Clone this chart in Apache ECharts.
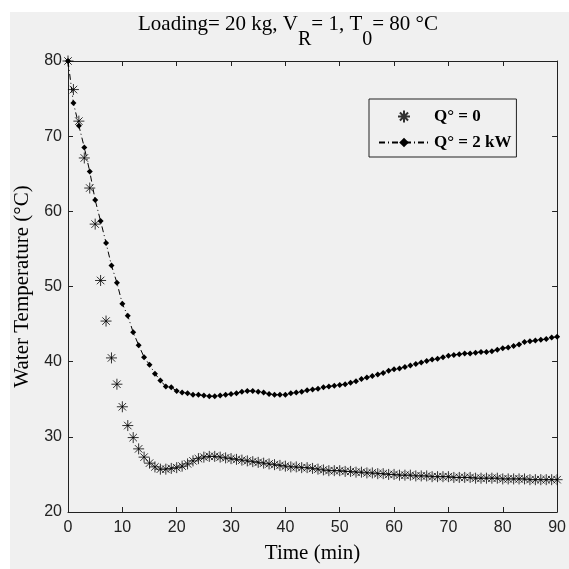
<!DOCTYPE html>
<html>
<head>
<meta charset="utf-8">
<script src="https://cdn.jsdelivr.net/npm/echarts@6/dist/echarts.min.js"></script>
<style>
body{margin:0;background:#fff;}
#container1{width:569px;height:569px;}
</style>
</head>
<body>
<div id="container1"></div>
<script>
// time axis, one sample per minute
var time = [];
for (var i = 0; i <= 90; i++) time.push(i);

var xTicks = [0, 10, 20, 30, 40, 50, 60, 70, 80, 90];
var yTicks = [20, 30, 40, 50, 60, 70, 80];

// Q° = 0
var q0 = [80, 76.2, 72.0, 67.1, 63.1, 58.3, 50.8, 45.4, 40.5, 37.0,
	34.0, 31.5, 29.9, 28.4, 27.3, 26.5, 26.0, 25.7, 25.7, 25.8,
	25.9, 26.1, 26.4, 26.8, 27.1, 27.3, 27.4, 27.4, 27.3, 27.2,
	27.1, 27.0, 26.9, 26.8, 26.7, 26.6, 26.5, 26.4, 26.3, 26.2,
	26.1, 26.0, 26.0, 25.9, 25.9, 25.8, 25.7, 25.6, 25.5, 25.5,
	25.5, 25.4, 25.4, 25.3, 25.3, 25.2, 25.2, 25.1, 25.1, 25.0,
	25.0, 24.9, 24.9, 24.9, 24.8, 24.8, 24.8, 24.7, 24.7, 24.7,
	24.7, 24.6, 24.6, 24.6, 24.6, 24.5, 24.5, 24.5, 24.5, 24.5,
	24.4, 24.4, 24.4, 24.4, 24.4, 24.3, 24.3, 24.3, 24.3, 24.3, 24.3];

// Q° = 2 kW
var q2 = [80, 74.4, 71.4, 68.5, 65.3, 61.5, 58.7, 55.8, 52.8, 50.5,
	47.7, 46.1, 43.9, 42.2, 40.6, 39.6, 38.4, 37.5, 36.7, 36.6,
	36.1, 35.9, 35.8, 35.6, 35.6, 35.5, 35.4, 35.4, 35.5, 35.6,
	35.7, 35.8, 36.0, 36.1, 36.1, 36.0, 35.9, 35.7, 35.6, 35.6,
	35.6, 35.8, 35.9, 36.0, 36.2, 36.3, 36.4, 36.6, 36.7, 36.8,
	36.9, 37.0, 37.2, 37.4, 37.7, 37.9, 38.1, 38.3, 38.5, 38.8,
	39.0, 39.1, 39.3, 39.5, 39.7, 39.9, 40.1, 40.3, 40.4, 40.6,
	40.8, 40.9, 41.0, 41.1, 41.1, 41.2, 41.3, 41.3, 41.4, 41.6,
	41.8, 41.9, 42.1, 42.3, 42.6, 42.7, 42.8, 42.9, 43.0, 43.2, 43.3];

function pairs(ys) {
	var out = [];
	for (var i = 0; i < time.length; i++) out.push([time[i], ys[i]]);
	return out;
}

var star = 'path://M5,0L5,10M0,5L10,5M1.6,1.6L8.4,8.4M8.4,1.6L1.6,8.4';
var serif = 'Liberation Serif';
var sans = 'Liberation Sans';
var axisColor = '#222';

var myChart = echarts.init(document.getElementById('container1'));

function axisBase(pos, showLabel, data) {
	return {
		type: 'value',
		position: pos,
		min: data[0],
		max: data[data.length - 1],
		interval: data[1] - data[0],
		splitLine: {show: false},
		axisLine: {show: true, onZero: false, lineStyle: {color: axisColor, width: 1}},
		axisTick: {show: true, inside: true, length: 5, lineStyle: {color: axisColor}},
		axisLabel: {show: showLabel, color: '#222', fontFamily: sans, fontSize: 16, margin: 8}
	};
}

var xMain = axisBase('bottom', true, xTicks);
xMain.name = 'Time (min)';
xMain.nameLocation = 'middle';
xMain.nameGap = 31;
xMain.nameTextStyle = {fontFamily: serif, fontSize: 21, color: '#000'};

var yMain = axisBase('left', true, yTicks);
yMain.axisLabel.margin = 6;
yMain.name = 'Water Temperature (°C)';
yMain.nameLocation = 'middle';
yMain.nameGap = 32;
yMain.nameTextStyle = {fontFamily: serif, fontSize: 21, color: '#000'};

var option = {
	animation: false,
	backgroundColor: '#fff',
	graphic: [{
		type: 'rect',
		z: -100,
		silent: true,
		shape: {x: 10, y: 12, width: 559, height: 557},
		style: {fill: '#f0f0f0'}
	}],
	title: {
		left: 133,
		top: 9,
		text: '{m|Loading= 20 kg, V}{s|R}{m|= 1, T}{s|0}{m|= 80 °C}',
		textStyle: {
			fontWeight: 'normal',
			rich: {
				m: {fontFamily: serif, fontWeight: 'normal', fontSize: 21, lineHeight: 22, color: '#000', verticalAlign: 'top'},
				s: {fontFamily: serif, fontWeight: 'normal', fontSize: 20, lineHeight: 22, color: '#000', verticalAlign: 'top', padding: [16, 0, 0, 0]}
			}
		}
	},
	grid: {left: 68, right: 9, top: 61, bottom: 53},
	legend: {
		left: 369,
		top: 99,
		orient: 'vertical',
		padding: [9, 5, 6, 9],
		itemWidth: 50,
		itemHeight: 12,
		itemGap: 9,
		borderColor: '#222',
		borderWidth: 1,
		backgroundColor: '#f0f0f0',
		textStyle: {fontFamily: serif, fontWeight: 'bold', fontSize: 17, color: '#000', width: 88},
		data: ['Q° = 0', 'Q° = 2 kW']
	},
	xAxis: [xMain, axisBase('top', false, xTicks)],
	yAxis: [yMain, axisBase('right', false, yTicks)],
	series: [
		//线 Q=2kW
		{
			name: 'Q° = 2 kW',
			type: 'line',
			data: pairs(q2),
			symbol: 'diamond',
			symbolSize: 6,
			showAllSymbol: true,
			lineStyle: {color: '#000', width: 1, type: [6, 3, 1, 3]},
			itemStyle: {color: '#000'}
		},
		//点 Q=0
		{
			name: 'Q° = 0',
			type: 'scatter',
			data: pairs(q0),
			symbol: star,
			symbolSize: 11,
			itemStyle: {color: '#000', borderColor: '#000', borderWidth: 1}
		}
	]
};

myChart.setOption(option, true);
</script>
</body>
</html>
